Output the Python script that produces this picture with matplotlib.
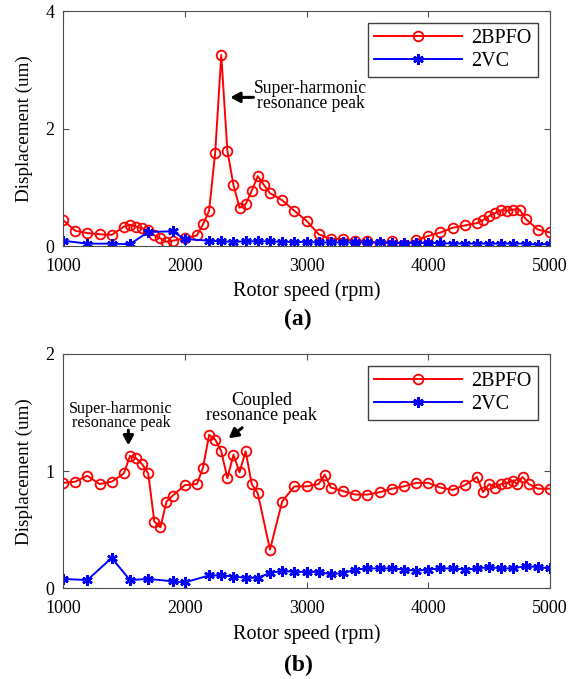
import matplotlib
matplotlib.use("Agg")
import matplotlib.pyplot as plt

plt.rcParams['font.family'] = ['Liberation Serif', 'DejaVu Serif']

# (a) rotor speed vs displacement
speed_a_bpfo = [1000, 1100, 1200, 1300, 1400, 1500, 1550, 1600, 1650, 1700,
                1750, 1800, 1850, 1900, 2000, 2100, 2150, 2200, 2250, 2300,
                2350, 2400, 2450, 2500, 2550, 2600, 2650, 2700, 2800, 2900,
                3000, 3100, 3200, 3300, 3400, 3500, 3600, 3700, 3800, 3900,
                4000, 4100, 4200, 4300, 4400, 4450, 4500, 4550, 4600, 4650,
                4700, 4750, 4800, 4900, 5000]
disp_a_bpfo = [0.44, 0.26, 0.22, 0.20, 0.19, 0.33, 0.36, 0.33, 0.30, 0.27,
               0.18, 0.13, 0.07, 0.09, 0.13, 0.18, 0.37, 0.60, 1.59, 3.25,
               1.62, 1.04, 0.65, 0.71, 0.94, 1.19, 1.04, 0.90, 0.78, 0.60,
               0.43, 0.20, 0.12, 0.12, 0.09, 0.09, 0.04, 0.09, 0.02, 0.10,
               0.17, 0.23, 0.31, 0.35, 0.39, 0.44, 0.51, 0.56, 0.61, 0.60,
               0.62, 0.62, 0.46, 0.28, 0.23]

speed_a_vc = [1000, 1200, 1400, 1550, 1700, 1900, 2000, 2200, 2300, 2400,
              2500, 2600, 2700, 2800, 2900, 3000, 3100, 3200, 3300, 3400,
              3500, 3600, 3700, 3800, 3900, 4000, 4100, 4200, 4300, 4400,
              4500, 4600, 4700, 4800, 4900, 5000]
disp_a_vc = [0.09, 0.04, 0.04, 0.03, 0.24, 0.25, 0.12, 0.09, 0.08, 0.07,
             0.08, 0.08, 0.08, 0.07, 0.07, 0.07, 0.06, 0.06, 0.06, 0.06,
             0.06, 0.06, 0.05, 0.05, 0.05, 0.05, 0.05, 0.04, 0.04, 0.04,
             0.04, 0.04, 0.04, 0.04, 0.02, 0.04]

# (b)
speed_b_bpfo = [1000, 1100, 1200, 1300, 1400, 1500, 1550, 1600, 1650, 1700,
                1750, 1800, 1850, 1900, 2000, 2100, 2150, 2200, 2250, 2300,
                2350, 2400, 2450, 2500, 2550, 2600, 2700, 2800, 2900, 3000,
                3100, 3150, 3200, 3300, 3400, 3500, 3600, 3700, 3800, 3900,
                4000, 4100, 4200, 4300, 4400, 4450, 4500, 4550, 4600, 4650,
                4700, 4725, 4775, 4825, 4900, 5000]
disp_b_bpfo = [0.90, 0.91, 0.96, 0.89, 0.91, 0.98, 1.13, 1.11, 1.06, 0.98,
               0.57, 0.52, 0.74, 0.79, 0.88, 0.89, 1.03, 1.31, 1.27, 1.17,
               0.94, 1.14, 0.99, 1.17, 0.89, 0.81, 0.33, 0.74, 0.87, 0.87,
               0.89, 0.97, 0.86, 0.83, 0.80, 0.80, 0.82, 0.85, 0.87, 0.90,
               0.90, 0.86, 0.84, 0.88, 0.95, 0.82, 0.89, 0.86, 0.89, 0.90,
               0.92, 0.89, 0.95, 0.89, 0.85, 0.85]

speed_b_vc = [1000, 1200, 1400, 1550, 1700, 1900, 2000, 2200, 2300, 2400,
              2500, 2600, 2700, 2800, 2900, 3000, 3100, 3200, 3300, 3400,
              3500, 3600, 3700, 3800, 3900, 4000, 4100, 4200, 4300, 4400,
              4500, 4600, 4700, 4800, 4900, 5000]
disp_b_vc = [0.08, 0.07, 0.26, 0.07, 0.08, 0.06, 0.05, 0.11, 0.11, 0.10,
             0.09, 0.09, 0.13, 0.15, 0.14, 0.14, 0.14, 0.12, 0.13, 0.16,
             0.17, 0.17, 0.17, 0.16, 0.15, 0.16, 0.17, 0.17, 0.16, 0.17,
             0.18, 0.17, 0.17, 0.19, 0.18, 0.17]

W, H = 583, 679
fig = plt.figure(figsize=(W / 100, H / 100), dpi=100)
ax1 = fig.add_axes([63 / W, 1 - 246 / H, 487 / W, 235 / H])
ax2 = fig.add_axes([63 / W, 1 - 588.3 / H, 487 / W, 234.3 / H])


def draw(ax, xb, yb, xv, yv, ymax, yticks):
    ax.plot(xb, yb, color='#ff0000', lw=1.4, marker='o', ms=7,
            mfc='none', mew=1.3, label='2BPFO')
    ax.plot(xv, yv, color='#0000ff', lw=1.4, marker=(6, 2, 0), ms=7.5,
            mew=1.8, label='2VC')
    ax.set_xlim(1000, 5000)
    ax.set_ylim(0, ymax)
    ax.set_xticks([1000, 2000, 3000, 4000, 5000])
    ax.set_yticks(yticks)
    ax.tick_params(direction='in', top=True, right=True, length=4,
                   labelsize=13, pad=6, color='0.3')
    ax.tick_params(axis='x', pad=8.5)
    for s in ax.spines.values():
        s.set_color('0.3')
    ax.set_xlabel('Rotor speed (rpm)', fontsize=14.5)
    ax.set_ylabel('Displacement (um)', fontsize=13.8)
    ax.yaxis.set_label_coords(-0.062, 0.5)
    leg = ax.legend(loc='upper right', fontsize=14.5, fancybox=False,
                    edgecolor='0.25', framealpha=1, borderaxespad=0.6,
                    borderpad=0.3, handlelength=4.4, handletextpad=0.45,
                    labelspacing=0.2)
    leg.get_frame().set_linewidth(1.0)


draw(ax1, speed_a_bpfo, disp_a_bpfo, speed_a_vc, disp_a_vc, 4, [0, 2, 4])
draw(ax2, speed_b_bpfo, disp_b_bpfo, speed_b_vc, disp_b_vc, 2, [0, 1, 2])
ax1.xaxis.set_label_coords(0.5, -0.152)
ax2.xaxis.set_label_coords(0.5, -0.155)

arrow = dict(arrowstyle='-|>,head_length=0.55,head_width=0.3', color='k',
             lw=2.2, shrinkA=0, shrinkB=0)

ax1.annotate('', xy=(2374, 2.53), xytext=(2564, 2.53),
             arrowprops=arrow, annotation_clip=False)
ax1.text(2570, 2.56, 'Super-harmonic\nresonance peak', ha='left',
         va='center', fontsize=12.7, multialignment='center', linespacing=0.85)

ax2.annotate('', xy=(1537, 1.22), xytext=(1537, 1.35), arrowprops=arrow)
ax2.text(1476, 1.47, 'Super-harmonic\nresonance peak', ha='center',
         va='center', fontsize=11.6, linespacing=0.85)
ax2.annotate('', xy=(2360, 1.28), xytext=(2471, 1.37), arrowprops=arrow)
ax2.text(2630, 1.54, 'Coupled\nresonance peak', ha='center',
         va='center', fontsize=13, linespacing=0.88)

fig.text(298 / W, 1 - 319 / H, '(a)', ha='center', va='center',
         fontsize=17, fontweight='bold')
fig.text(298 / W, 1 - 665 / H, '(b)', ha='center', va='center',
         fontsize=17, fontweight='bold')

fig.savefig('out.png', dpi=100)
